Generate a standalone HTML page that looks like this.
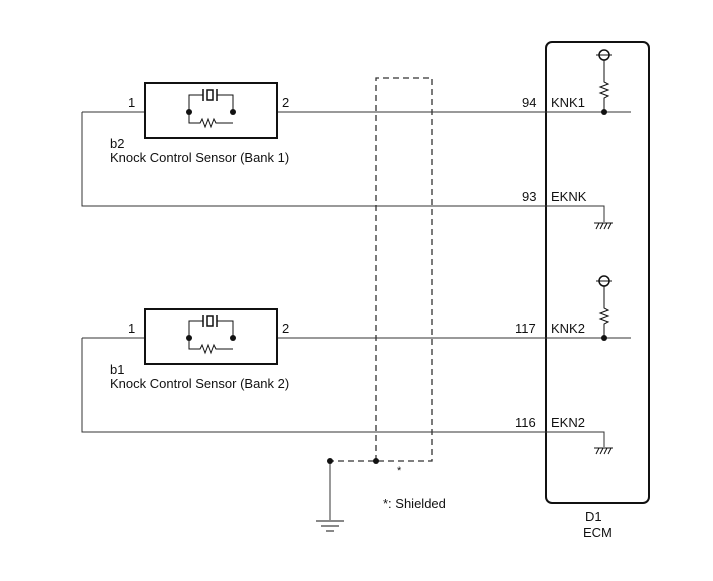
<!DOCTYPE html>
<html><head><meta charset="utf-8"><style>body{margin:0;background:#fff}svg{display:block}text{font-family:"Liberation Sans",Arial,sans-serif;font-size:13px;fill:#111}</style></head><body>
<svg width="713" height="581" viewBox="0 0 713 581" xmlns="http://www.w3.org/2000/svg">
<defs>
<g id="sensor" stroke="#111" fill="none">
<rect x="145" y="-29" width="132" height="55" stroke-width="2"/>
<path d="M189 0V-17H203M217 -17H233V0M189 0V11H200l2-4 3 8 3-8 3 8 3-8 2 4H233V11" stroke-width="1"/>
<path d="M203 -23V-11M217 -23V-11" stroke-width="1.5"/>
<rect x="207" y="-22" width="6" height="10" stroke-width="1.5"/>
<circle cx="189" cy="0" r="3" fill="#111" stroke="none"/>
<circle cx="233" cy="0" r="3" fill="#111" stroke="none"/>
</g>
<g id="pull" stroke="#111" fill="none" stroke-width="1">
<circle cx="604" cy="-57" r="5" stroke-width="1.5"/>
<path d="M596 -57H612M604 -52V-30l4 2-8 3 8 3-8 3 8 3-4 2V0"/>
<circle cx="604" cy="0" r="3" fill="#111" stroke="none"/>
</g>
<g id="gnd" stroke="#111" fill="none" stroke-width="1">
<path d="M594 0H613M596 6l3-6M600 6l3-6M604 6l3-6M608 6l3-6"/>
</g>
</defs>
<rect x="546" y="42" width="103" height="461" rx="6" fill="none" stroke="#111" stroke-width="2"/>
<g stroke="#333" stroke-width="1" fill="none">
<path d="M82 112H145M277 112H631M82 112V206H604V222"/>
<path d="M82 338H145M277 338H631M82 338V432H604V447"/>
<path d="M330 461V520"/>
</g>
<use href="#sensor" transform="translate(0,112)"/>
<use href="#sensor" transform="translate(0,338)"/>
<use href="#pull" transform="translate(0,112)"/>
<use href="#pull" transform="translate(0,338)"/>
<use href="#gnd" transform="translate(0,223)"/>
<use href="#gnd" transform="translate(0,448)"/>
<g stroke="#333" stroke-width="1.3" fill="none" stroke-dasharray="6,4">
<path d="M376 461V78H432V461H330"/>
</g>
<circle cx="376" cy="461" r="3" fill="#111"/>
<circle cx="330" cy="461" r="3" fill="#111"/>
<path d="M316 521H344M321 526H339M326 531H334" stroke="#111" stroke-width="1"/>
<text x="128" y="107">1</text><text x="282" y="107">2</text>
<text x="128" y="333">1</text><text x="282" y="333">2</text>
<text x="110" y="148">b2</text><text x="110" y="162">Knock Control Sensor (Bank 1)</text>
<text x="110" y="374">b1</text><text x="110" y="388">Knock Control Sensor (Bank 2)</text>
<text x="522" y="107">94</text><text x="551" y="107">KNK1</text>
<text x="522" y="201">93</text><text x="551" y="201">EKNK</text>
<text x="515" y="333">117</text><text x="551" y="333">KNK2</text>
<text x="515" y="427">116</text><text x="551" y="427">EKN2</text>
<text x="397" y="474" style="font-size:11px">*</text>
<text x="383" y="508">*: Shielded</text>
<text x="585" y="521">D1</text><text x="583" y="537">ECM</text>
</svg>
</body></html>
